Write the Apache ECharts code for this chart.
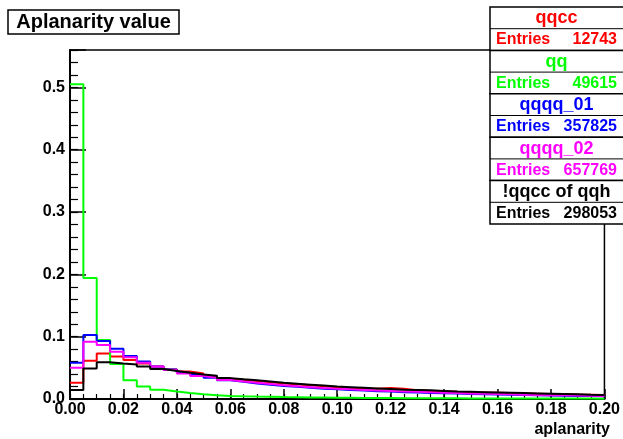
<!DOCTYPE html>
<html>
<head>
<meta charset="utf-8">
<script src="https://cdn.jsdelivr.net/npm/echarts@6/dist/echarts.min.js"></script>
<style>
html,body{margin:0;padding:0;background:#fff;}
#chart{width:623px;height:439px;}
</style>
</head>
<body>
<div id="chart"></div>
<script>
// ---- data ----
const binWidth = 0.005;
const xMin = 0, xMax = 0.20;
const xTickLabels = ['0.00','0.02','0.04','0.06','0.08','0.10','0.12','0.14','0.16','0.18','0.20'];
const yTickLabels = ['0.0','0.1','0.2','0.3','0.4','0.5'];

const seriesNames = ['qqcc', 'qq', 'qqqq_01', 'qqqq_02', '!qqcc of qqh'];
const entries = [12743, 49615, 357825, 657769, 298053];

const qqcc = [0.026, 0.0615, 0.073, 0.068, 0.0625, 0.057, 0.052, 0.0475, 0.044, 0.041,
  0.037, 0.033, 0.031, 0.029, 0.027, 0.025, 0.0235, 0.022, 0.0205, 0.019,
  0.018, 0.017, 0.0165, 0.0175, 0.0165, 0.014, 0.013, 0.0125, 0.0115, 0.011,
  0.0105, 0.010, 0.0095, 0.009, 0.0085, 0.008, 0.0075, 0.007, 0.0068, 0.0065];
const qq = [0.505, 0.194, 0.0945, 0.056, 0.030, 0.020, 0.015, 0.012, 0.0095, 0.0075,
  0.006, 0.005, 0.0044, 0.0039, 0.0035, 0.0031, 0.0028, 0.0025, 0.0023, 0.0021,
  0.0019, 0.0017, 0.0016, 0.0015, 0.0014, 0.0013, 0.0012, 0.0011, 0.0011, 0.001,
  0.001, 0.0009, 0.0009, 0.0008, 0.0008, 0.0008, 0.0007, 0.0007, 0.0007, 0.0006];
const qqqq01 = [0.058, 0.1025, 0.093, 0.0805, 0.069, 0.060, 0.052, 0.0475, 0.042, 0.0385,
  0.034, 0.030, 0.0275, 0.025, 0.023, 0.021, 0.0195, 0.018, 0.0165, 0.0155,
  0.0145, 0.0135, 0.0125, 0.012, 0.011, 0.0105, 0.0098, 0.0092, 0.0087, 0.0082,
  0.0077, 0.0072, 0.0068, 0.0064, 0.006, 0.0056, 0.0053, 0.005, 0.0047, 0.0045];
const qqqq02 = [0.050, 0.092, 0.0865, 0.076, 0.067, 0.058, 0.052, 0.0465, 0.041, 0.037,
  0.034, 0.0305, 0.028, 0.026, 0.024, 0.022, 0.0205, 0.019, 0.0175, 0.0165,
  0.0155, 0.0145, 0.0135, 0.013, 0.012, 0.0115, 0.011, 0.0102, 0.0096, 0.009,
  0.0085, 0.008, 0.0075, 0.007, 0.0066, 0.0062, 0.0059, 0.0056, 0.0053, 0.005];
const notQqccOfQqh = [0.0145, 0.049, 0.059, 0.057, 0.0555, 0.052, 0.048, 0.045, 0.042, 0.0395,
  0.0375, 0.0335, 0.0315, 0.030, 0.028, 0.026, 0.0245, 0.023, 0.0215, 0.020,
  0.019, 0.018, 0.017, 0.016, 0.015, 0.0145, 0.014, 0.013, 0.012, 0.0115,
  0.011, 0.0105, 0.010, 0.0095, 0.009, 0.0085, 0.008, 0.0075, 0.007, 0.0066];

const seriesValues = [qqcc, qq, qqqq01, qqqq02, notQqccOfQqh];
const colors = ['#ff0000', '#00ff00', '#0000ff', '#ff00ff', '#000000'];

// ---- build ----
function histPoints(vals) {
  const pts = vals.map((v, i) => [xMin + i * binWidth, v]);
  pts.push([xMax, vals[vals.length - 1]]);
  return pts;
}

const FONT = '"Liberation Sans", Arial, Helvetica, sans-serif';
const chart = echarts.init(document.getElementById('chart'), null, {renderer: 'canvas'});

const series = seriesValues.map((vals, k) => ({
  name: seriesNames[k],
  type: 'line',
  step: 'end',
  data: histPoints(vals),
  showSymbol: false,
  symbol: 'none',
  lineStyle: {color: colors[k], width: 2},
  xAxisIndex: 0, yAxisIndex: 0,
  animation: false,
  z: 2 + k
}));

// legend / stats boxes
const legendEls = [];
const boxX = 490, boxTop = 7, rowH = 21.7, boxW = 150;
seriesNames.forEach((nm, k) => {
  const y0 = boxTop + k * 2 * rowH;
  legendEls.push({type: 'rect', shape: {x: boxX, y: y0, width: boxW, height: 2 * rowH},
    style: {fill: '#fff', stroke: '#000', lineWidth: 1.5}, z: 100});
  legendEls.push({type: 'line', shape: {x1: boxX, y1: y0 + rowH, x2: boxX + boxW, y2: y0 + rowH},
    style: {stroke: '#000', lineWidth: 1}, z: 101});
  legendEls.push({type: 'text', x: 556.5, y: y0 + rowH / 2 + 0.5, z: 102,
    style: {text: nm, fill: colors[k], font: 'bold 18px ' + FONT, align: 'center', verticalAlign: 'middle'}});
  legendEls.push({type: 'text', x: 496, y: y0 + rowH * 1.5 + 0.5, z: 102,
    style: {text: 'Entries', fill: colors[k], font: 'bold 16px ' + FONT, align: 'left', verticalAlign: 'middle'}});
  legendEls.push({type: 'text', x: 617, y: y0 + rowH * 1.5 + 0.5, z: 102,
    style: {text: String(entries[k]), fill: colors[k], font: 'bold 16px ' + FONT, align: 'right', verticalAlign: 'middle'}});
});

const option = {
  animation: false,
  backgroundColor: '#ffffff',
  grid: {left: 70, right: 11, top: 50, bottom: 40, show: true, borderColor: '#000', borderWidth: 1.5, backgroundColor: 'transparent'},
  xAxis: [
    {type: 'value', min: xMin, max: xMax, interval: 0.02,
     axisLine: {show: true, lineStyle: {color: '#000', width: 2}},
     axisTick: {show: true, inside: true, length: 10, lineStyle: {color: '#000', width: 1.5}},
     axisLabel: {show: true, margin: 3, color: '#000', fontSize: 16, fontWeight: 'bold', fontFamily: FONT,
       formatter: v => { const i = Math.round(v / 0.02); return (Math.abs(v - i * 0.02) < 1e-9) ? xTickLabels[i] : ''; }},
     splitLine: {show: false}},
    {type: 'value', min: xMin, max: xMax, interval: 0.005, position: 'bottom',
     axisLine: {show: false},
     axisTick: {show: true, inside: true, length: 5, lineStyle: {color: '#000', width: 1.2}},
     axisLabel: {show: false}, splitLine: {show: false}}
  ],
  yAxis: [
    {type: 'value', min: 0, max: 0.56, interval: 0.1,
     axisLine: {show: true, lineStyle: {color: '#000', width: 2}},
     axisTick: {show: true, inside: true, length: 16, lineStyle: {color: '#000', width: 1.5}},
     axisLabel: {show: true, margin: 5, color: '#000', fontSize: 16, fontWeight: 'bold', fontFamily: FONT,
       formatter: v => { const i = Math.round(v / 0.1); return (Math.abs(v - i * 0.1) < 1e-9 && i < yTickLabels.length) ? yTickLabels[i] : ''; }},
     splitLine: {show: false}},
    {type: 'value', min: 0, max: 0.56, interval: 0.02, position: 'left',
     axisLine: {show: false},
     axisTick: {show: true, inside: true, length: 8, lineStyle: {color: '#000', width: 1.2}},
     axisLabel: {show: false}, splitLine: {show: false}}
  ],
  series: series,
  graphic: [
    {type: 'rect', shape: {x: 8, y: 10, width: 171, height: 24}, style: {fill: '#fff', stroke: '#000', lineWidth: 1.5}, z: 100},
    {type: 'text', x: 93.5, y: 22.5, z: 101,
     style: {text: 'Aplanarity value', fill: '#000', font: 'bold 20px ' + FONT, align: 'center', verticalAlign: 'middle'}},
    {type: 'text', x: 610, y: 430, z: 101,
     style: {text: 'aplanarity', fill: '#000', font: 'bold 16px ' + FONT, align: 'right', verticalAlign: 'middle'}}
  ].concat(legendEls)
};
chart.setOption(option);
</script>
</body>
</html>
